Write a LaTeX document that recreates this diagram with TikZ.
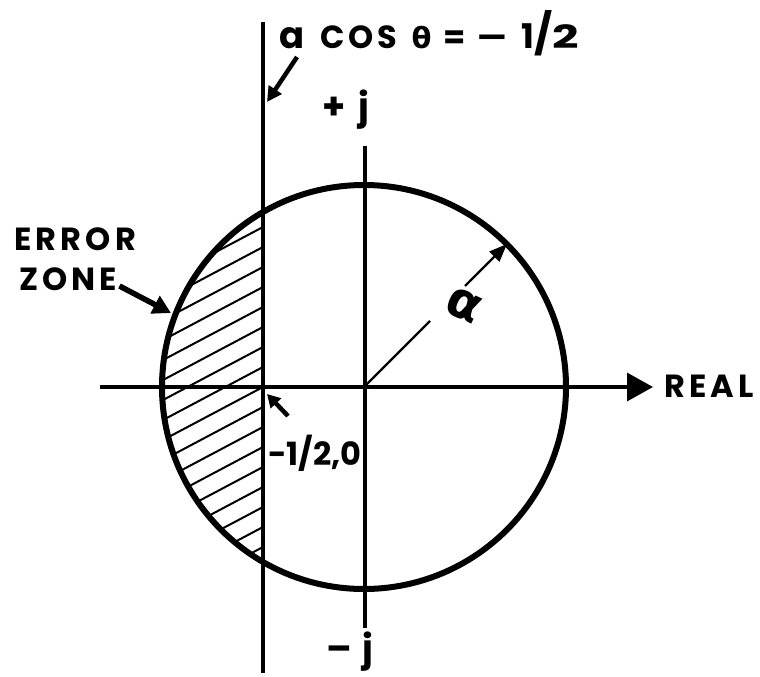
\documentclass[tikz,border=0pt]{standalone}
\usepackage{fontspec}
\setmainfont{Poppins}
\newfontfamily\dejavu{DejaVu Sans}
\usetikzlibrary{arrows.meta}
\begin{document}
\begin{tikzpicture}[x=1pt,y=-1pt,
  lbl/.style={font=\fontsize{32}{32}\selectfont\bfseries\addfontfeature{LetterSpace=13}, inner sep=0pt},
  thickarrow/.style={line width=5.5pt, -{Triangle[length=18pt,width=19pt]}},
  axisline/.style={line width=3.5pt},
]
\useasboundingbox (0,0) rectangle (760,677);
\coordinate (O) at (364,387);
% hatching
\begin{scope}
  \clip (O) circle (202);
  \clip (0,0) rectangle (263,677);
  \foreach \k in {0,...,22} {
    \draw[line width=2pt] (263,{207+20*\k}) -- ++(-200,106);
  }
\end{scope}
% circle
\draw[line width=6pt] (O) circle (202);
% vertical line a cos theta = -1/2
\coordinate (vt) at (263,22);
\coordinate (vb) at (263,673);
\draw[axisline] (vt) -- (vb);
% axes
\coordinate (hl) at (100,387);
\coordinate (hr) at (653,387);
\draw[axisline, -{Triangle[length=26pt,width=28pt]}] (hl) -- (hr);
\coordinate (jt) at (365,146);
\coordinate (jb) at (365,628);
\draw[axisline] (jt) -- (jb);
% radius
\coordinate (r1) at (430,321);
\coordinate (r2) at (465,286);
\coordinate (rE) at (507,244);
\draw[line width=2.2pt] (O) -- (r1);
\draw[line width=2.2pt, -{Triangle[length=18pt,width=14pt]}] (r2) -- (rE);
\node[inner sep=0pt, rotate=-25] (alpha) at (464,305) {\fontsize{50}{50}\selectfont\dejavu\bfseries α};
% labels
\node[lbl, anchor=west] (real) at (664,386) {REAL};
\node[lbl, anchor=west] (err) at (14,239) {ERROR};
\node[lbl, anchor=west] (zone) at (19,279) {ZONE};
\node[lbl, font=\fontsize{37}{37}\selectfont\bfseries] (pj) at (346,110) {+\hspace{12pt}j};
\node[lbl, font=\fontsize{37}{37}\selectfont\bfseries] (mj) at (350,652) {–\hspace{10pt}j};
\node[lbl, anchor=west, font=\fontsize{32}{32}\selectfont\bfseries] (half) at (268,453) {-1/2,0};
\node[lbl, anchor=west, font=\fontsize{32}{32}\selectfont\bfseries] (top) at (279,33)
  {{\fontsize{37}{37}\selectfont a}\hspace{16pt}C\hspace{4pt}O\hspace{4pt}S\hspace{14pt}{\fontsize{29}{29}\selectfont\dejavu\bfseries θ}\hspace{12pt}=\hspace{12pt}—\hspace{14pt}{\fontsize{34}{34}\selectfont 1}{\fontsize{40}{40}\selectfont/}\scalebox{1.45}[1]{2}};
% arrows
\coordinate (ezh) at (171,313);
\draw[thickarrow] (zone.east) ++(2,7) coordinate (ezt) (ezt) -- (ezh);
\coordinate (hh) at (267,394);
\draw[line width=4.5pt, -{Triangle[length=13pt,width=14pt]}] (288,416) coordinate (ht) (ht) -- (hh);
\coordinate (th) at (267,102);
\draw[line width=4.5pt, -{Triangle[length=15pt,width=15pt]}] (297,57) coordinate (tt) (tt) -- (th);
\end{tikzpicture}
\end{document}
